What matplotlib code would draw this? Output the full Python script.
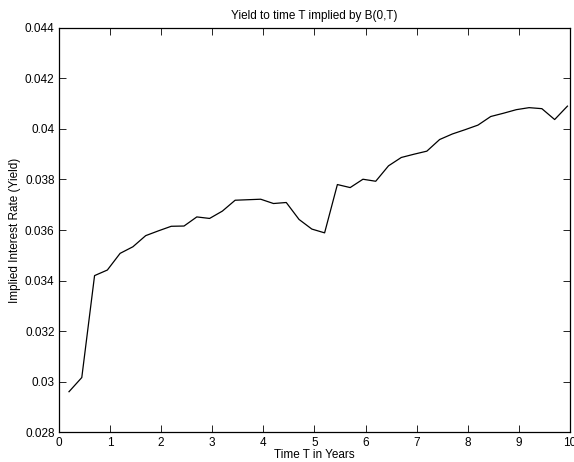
import numpy as np
import matplotlib
matplotlib.use("Agg")
import matplotlib.pyplot as plt
from matplotlib.ticker import FuncFormatter

# maturities (years) and implied yields
maturity = [0.2, 0.45, 0.7, 0.95, 1.2, 1.45, 1.7, 1.95, 2.2, 2.45,
            2.7, 2.95, 3.2, 3.45, 3.7, 3.95, 4.2, 4.45, 4.7, 4.95,
            5.2, 5.45, 5.7, 5.95, 6.2, 6.45, 6.7, 6.95, 7.2, 7.45,
            7.7, 7.95, 8.2, 8.45, 8.7, 8.95, 9.2, 9.45, 9.7, 9.95]
yld = [0.02961, 0.03017, 0.03420, 0.03442, 0.03508, 0.03534, 0.03578, 0.03597, 0.03615, 0.03616,
       0.03652, 0.03646, 0.03675, 0.03718, 0.03720, 0.03722, 0.03705, 0.03709, 0.03642, 0.03604,
       0.03589, 0.03780, 0.03768, 0.03801, 0.03793, 0.03854, 0.03887, 0.03900, 0.03912, 0.03958,
       0.03980, 0.03997, 0.04015, 0.04049, 0.04062, 0.04076, 0.04084, 0.04080, 0.04037, 0.04090]

xticks = np.arange(0, 11, 1)
yticks = [0.028, 0.030, 0.032, 0.034, 0.036, 0.038, 0.040, 0.042, 0.044]

plt.rcParams['font.family'] = ['Liberation Sans', 'DejaVu Sans']
plt.rcParams['font.size'] = 8.5

fig = plt.figure(figsize=(5.74, 4.62), dpi=100)
ax = fig.add_axes([0.1024, 0.064, 0.8906, 0.876])
ax.plot(maturity, yld, color='black', linewidth=0.9)

ax.set_xlim(0, 10)
ax.set_ylim(0.028, 0.044)
ax.set_xticks(xticks)
ax.set_yticks(yticks)
ax.yaxis.set_major_formatter(FuncFormatter(lambda v, p: ('%.3f' % v).rstrip('0')))
ax.tick_params(direction='in', length=5, width=0.6, top=True, right=True, pad=3, labelsize=8.5)
for s in ax.spines.values():
    s.set_linewidth(0.9)

ax.set_title("Yield to time T implied by B(0,T)", fontsize=8.5, pad=6)
ax.set_xlabel("Time T in Years", fontsize=8.5, labelpad=0)
ax.set_ylabel("Implied Interest Rate (Yield)", fontsize=8.5, labelpad=3)

fig.savefig("out.png", dpi=100)
